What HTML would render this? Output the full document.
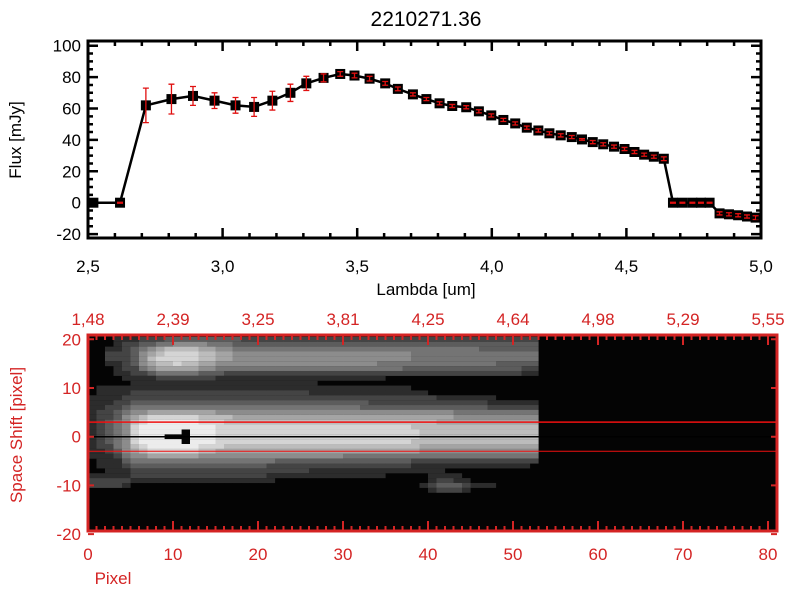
<!DOCTYPE html>
<html><head><meta charset="utf-8">
<style>
html,body{margin:0;padding:0;background:#fff;}
svg{display:block;}
text{font-family:"Liberation Sans",sans-serif;}
</style></head>
<body>
<svg id="c" width="800" height="600" viewBox="0 0 800 600" xmlns="http://www.w3.org/2000/svg">
<rect width="800" height="600" fill="#fff"/>
<text x="426" y="26" font-size="21" text-anchor="middle">2210271.36</text>
<g id="top"></g>
<g id="bot"></g>
</svg>
<script>
// ---- spectrum data ----
const lambdas = [2.52,2.619,2.715,2.81,2.89,2.97,3.048,3.117,3.185,3.252,3.311,3.375,3.437,3.49,3.546,3.604,3.651,3.707,3.757,3.806,3.853,3.905,3.952,3.998,4.043,4.087,4.13,4.173,4.214,4.256,4.297,4.335,4.375,4.414,4.454,4.493,4.53,4.566,4.602,4.639,4.673,4.708,4.745,4.777,4.809,4.846,4.881,4.915,4.948,4.98];
const fluxes = [0,0,62,66,68,65,62,61,65,70,76,79.5,82,81,79,76,72.5,69,66,63.3,61.6,60.8,58.2,55.6,52.7,50.5,47.8,46,44.2,42.9,41.8,40.3,38.6,37.2,35.7,34.2,32.3,30.6,29.3,28,0,0,0,0,0,-6.8,-7.4,-8,-8.8,-9.5];
const errors = [0.3,0.3,11,9.5,6,5,5,6,6,5.5,4.5,2.5,1.5,1.5,1.5,1.2,1.2,1,1,1,1,1,1,1,1,1,1,1,1,1,1,0.5,1,1,1,1,1,1,1,1.2,0.3,0.3,0.3,0.3,0.3,1,1,1,1,1.2];
const xTicks = ["2.5","3.0","3.5","4.0","4.5","5.0"];
const yTicks = ["-20","0","20","40","60","80","100"];
// ---- image data ----
const rowShifts = [20,19,18,17,16,15,14,13,12,11,10,9,8,7,6,5,4,3,2,1,0,-1,-2,-3,-4,-5,-6,-7,-8,-9,-10,-11];
const imageRows = [
"000111222333333333222222222222222222222222222222222220",
"000122334455554443333333333333333333333333333333333330",
"001123456777766554444444444444444444444444444433333330",
"002223567888877665555555555555555555554444444444444440",
"002223578888877665555555555555555555554444444444444440",
"001123567787766555555555555555555544444444444444333330",
"000122456666655444444444444444444444433333333333333220",
"000112234444433322222222222222222222222222222222222110",
"000011112222222111111111111111111110000000000000000000",
"000001111111111111111111111000000000000000000000000000",
"011111111111111111111111111111111111110000000000000000",
"011112222222222222222222221111111111111100000000000000",
"111122222222222222222222222222222222222221111111000000",
"111223333333333333333333333333333222222222222221111110",
"112234444444444444444444444444443333333333333332222220",
"122345566666666555555555555555555555555555544444444440",
"122356788888877776666666666666666666666666655555555550",
"123457899999988877777777777777777777777776666666666660",
"123458999999999888888888888888888888887777777777777770",
"123458999990999888888888888888888888888777777777777770",
"123458999000999888888888888888888888888777777777777770",
"123458999990999888888888888888888888887777777777777770",
"122457899999988877777777777777777777777666666666666660",
"112356788888877666666666666666666666666555555555555550",
"111245566666655555555555555555444444444444444444444440",
"011134444444444444444433333333333333332222222222222220",
"011123333333333333333222222222222222221111111111111100",
"001112222222222222222222221111111111111111000000000000",
"111112222222222222222111111111111110000011110000000000",
"222221111111111111111100000000000000000012211000000000",
"222210000000000000000000000000000000000123332111000000",
"000000000000000000000000000000000000000012221000000000"];
const topLabels = ["1.48","2.39","3.25","3.81","4.25","4.64","4.98","5.29","5.55"];
const pixTicks = ["0","10","20","30","40","50","60","70","80"];
const shiftTicks = ["-20","-10","0","10","20"];

const NS="http://www.w3.org/2000/svg";
function mk(p,tag,attrs,txt){const e=document.createElementNS(NS,tag);for(const k in attrs)e.setAttribute(k,attrs[k]);if(txt!==undefined)e.textContent=txt;p.appendChild(e);return e;}

// ===== top plot =====
const T=document.getElementById('top');
const L=88,R=761,TT=41,TB=238;
const sx=v=>L+(v-2.5)/2.5*(R-L);
const sy=v=>202.7-v*1.57;
let d=lambdas.map((l,i)=>(i?'L':'M')+sx(l).toFixed(1)+' '+sy(fluxes[i]).toFixed(1)).join(' ');
const ln=mk(T,'path',{d:d,fill:'none',stroke:'#000','stroke-width':2.5});


lambdas.forEach((l,i)=>{
  const m=mk(T,'rect',{x:sx(l)-5,y:sy(fluxes[i])-5,width:10,height:10,fill:'#000'});
  
  
});
lambdas.forEach((l,i)=>{
  const x=sx(l),y1=sy(fluxes[i]+errors[i]),y2=sy(fluxes[i]-errors[i]);
  const e=mk(T,'path',{d:`M${x} ${y1}V${y2}M${x-3} ${y1}H${x+3}M${x-3} ${y2}H${x+3}`,stroke:'#e01010','stroke-width':1.3,fill:'none'});
  
  
});
mk(T,'rect',{x:L,y:TT,width:R-L,height:TB-TT,fill:'none',stroke:'#000','stroke-width':3});
let tk='';
for(let v=2.5;v<=5.001;v+=0.1){const x=sx(v);const maj=Math.abs(v*2-Math.round(v*2))<1e-6;const len=maj?10:5;tk+=`M${x} ${TB}v${-len}M${x} ${TT}v${len}`;}
for(let v=-20;v<=100;v+=5){const y=sy(v);const len=v%20===0?10:5;tk+=`M${L} ${y}h${len}M${R} ${y}h${-len}`;}
mk(T,'path',{d:tk,stroke:'#000','stroke-width':2.5,fill:'none'});
xTicks.forEach(t=>{const e=mk(T,'text',{x:sx(+t),y:272,'font-size':17,'text-anchor':'middle'},t.replace('.',','));
  });
yTicks.forEach(t=>{const e=mk(T,'text',{x:81,y:sy(+t)+6,'font-size':17,'text-anchor':'end'},t);
  });
const xt=mk(T,'text',{x:426,y:295,'font-size':17,'text-anchor':'middle'},'Lambda [um]');

const yt=mk(T,'text',{x:21,y:140,'font-size':17,'text-anchor':'middle',transform:'rotate(-90 21 140)'},'Flux [mJy]');


// ===== bottom plot =====
const B=document.getElementById('bot');
const BL=88,BR=777,BT=335,BB=531,RED='#d42424';
const px=v=>BL+v*8.5;
const py=v=>436.7-v*4.87;
mk(B,'defs',{}).innerHTML='<clipPath id="clp"><rect x="88" y="335" width="689" height="196"/></clipPath>';
const img=mk(B,'g',{'clip-path':'url(#clp)'});
mk(img,'rect',{x:BL,y:BT,width:BR-BL,height:BB-BT,fill:'#040404'});
imageRows.forEach((row,r)=>{
  const s=rowShifts[r];
  for(let c=0;c<row.length;c++){
    const v=+row[c];if(!v)continue;
    const g=Math.round(v*24+20);
    const cell=mk(img,'rect',{x:px(c),y:py(s+0.5),width:8.6,height:4.95,fill:`rgb(${g},${g},${g})`});
    
    
  }
});
mk(img,'line',{x1:BL,x2:BR,y1:py(0),y2:py(0),stroke:'#000','stroke-width':1.5});
const r1=mk(B,'line',{x1:BL,x2:BR,y1:py(3),y2:py(3),stroke:'#f01010','stroke-width':1.5});

const r2=mk(B,'line',{x1:BL,x2:BR,y1:py(-3),y2:py(-3),stroke:'#f01010','stroke-width':1});

mk(B,'rect',{x:BL,y:BT,width:BR-BL,height:BB-BT,fill:'none',stroke:RED,'stroke-width':3});
let bt='';
for(let v=0;v<=81;v++){const x=px(v);const len=v%10===0?10:5;bt+=`M${x} ${BB}v${-len}M${x} ${BT}v${len}`;}
shiftTicks.forEach(t=>{const y=py(+t);bt+=`M${BL} ${y}h6M${BR} ${y}h-6`;});
mk(B,'path',{d:bt,stroke:RED,'stroke-width':2,fill:'none'});
pixTicks.forEach(t=>{const e=mk(B,'text',{x:px(+t),y:560,'font-size':17,'text-anchor':'middle',fill:RED},t);
  });
topLabels.forEach((t,i)=>{const e=mk(B,'text',{x:px(i*10),y:325,'font-size':17,'text-anchor':'middle',fill:RED},t.replace('.',','));
  });
shiftTicks.forEach(t=>{const e=mk(B,'text',{x:81,y:py(+t)+6,'font-size':17,'text-anchor':'end',fill:RED},t);
  });
const bx=mk(B,'text',{x:113,y:584,'font-size':17,'text-anchor':'middle',fill:RED},'Pixel');

const by=mk(B,'text',{x:22,y:435,'font-size':17,'text-anchor':'middle',fill:RED,transform:'rotate(-90 22 435)'},'Space Shift [pixel]');

</script>
</body></html>
